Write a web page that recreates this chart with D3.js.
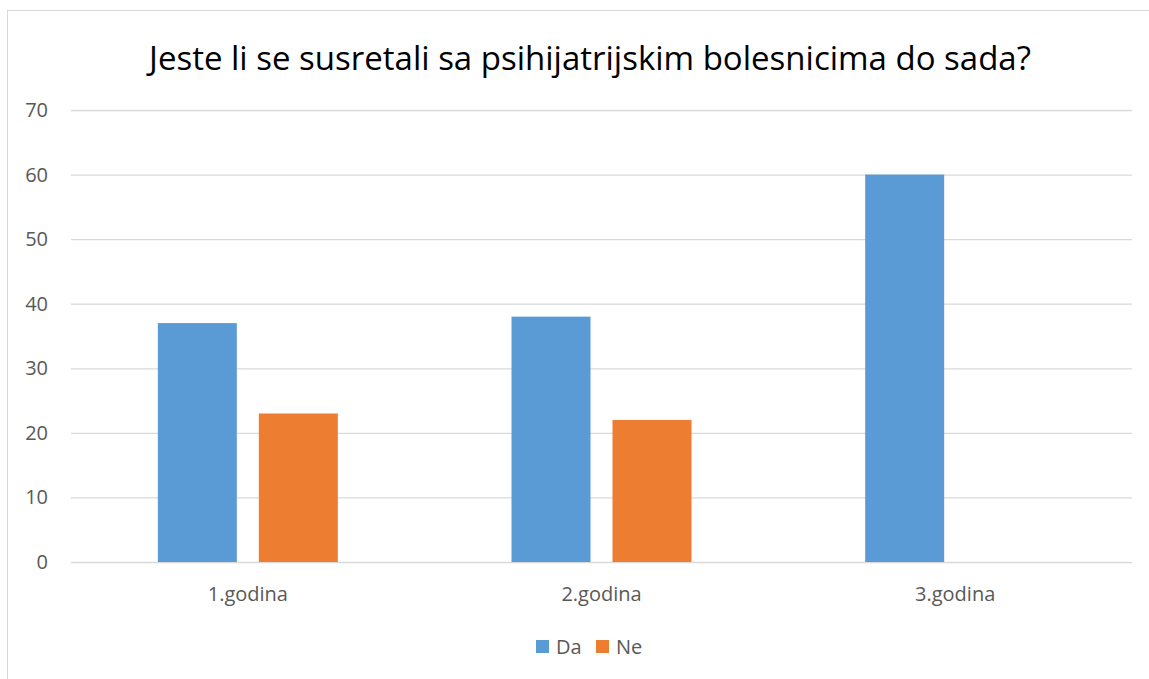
<html>
<head>
<script src="https://cdn.jsdelivr.net/npm/d3@7"></script>
<style>
  body{margin:0; background:#fff;}
  text{font-family:"Open Sans", "Noto Sans", sans-serif;}
</style>
</head>
<body>
<div id="chart"></div>
<script>
var categories = ['1.godina', '2.godina', '3.godina'];
var seriesNames = ['Da', 'Ne'];
var da = [37, 38, 60];
var ne = [23, 22, 0];
var yTicks = [0, 10, 20, 30, 40, 50, 60, 70];
var colors = ['#5B9BD5', '#ED7D31'];

var W = 1149, H = 679;
var svg = d3.select('#chart').append('svg')
  .attr('width', W)
  .attr('height', H);

// chart frame (runs off right and bottom)
svg.append('rect')
  .attr('x', 7.5).attr('y', 10.5)
  .attr('width', 1200).attr('height', 800)
  .attr('fill', '#fff')
  .attr('stroke', '#d9d9d9');

var plotL = 71, plotR = 1132, plotT = 110, plotB = 562;

var x = d3.scaleBand().domain(categories).range([plotL, plotR]);
var y = d3.scaleLinear().domain([0, 70]).range([plotB, plotT]);

// gridlines
svg.append('g').selectAll('line')
  .data(yTicks)
  .enter().append('line')
    .attr('x1', plotL).attr('x2', plotR)
    .attr('y1', function(d){ return y(d) + 0.5 })
    .attr('y2', function(d){ return y(d) + 0.5 })
    .attr('stroke', '#d9d9d9')
    .attr('stroke-width', 1.3);

// y tick labels
svg.append('g').selectAll('text')
  .data(yTicks)
  .enter().append('text')
    .attr('x', 48)
    .attr('y', function(d){ return y(d) })
    .attr('dy', '0.35em')
    .attr('text-anchor', 'end')
    .attr('fill', '#595959')
    .attr('font-size', 20)
    .text(function(d){ return d });

// bars
var barW = 79, gap = 22;
var rows = categories.map(function(c, i){ return {cat: c, vals: [da[i], ne[i]]} });
var groups = svg.append('g').selectAll('g')
  .data(rows)
  .enter().append('g')
    .attr('transform', function(d){
      return 'translate(' + (x(d.cat) + x.bandwidth() / 2 - barW - gap / 2) + ',0)';
    });
groups.selectAll('rect')
  .data(function(d){ return d.vals })
  .enter().append('rect')
    .attr('x', function(d, i){ return i * (barW + gap) })
    .attr('width', barW)
    .attr('y', function(d){ return y(d) })
    .attr('height', function(d){ return plotB - y(d) })
    .attr('fill', function(d, i){ return colors[i] });

// category labels
svg.append('g').selectAll('text')
  .data(categories)
  .enter().append('text')
    .attr('x', function(d){ return x(d) + x.bandwidth() / 2 })
    .attr('y', 601)
    .attr('text-anchor', 'middle')
    .attr('fill', '#595959')
    .attr('font-size', 20)
    .text(function(d){ return d });

// title
svg.append('text')
  .attr('x', 590).attr('y', 70)
  .attr('text-anchor', 'middle')
  .attr('fill', '#000')
  .attr('font-size', 33)
  .text('Jeste li se susretali sa psihijatrijskim bolesnicima do sada?');

// legend
var legend = svg.append('g').selectAll('g')
  .data(seriesNames)
  .enter().append('g')
    .attr('transform', function(d, i){ return 'translate(' + (536 + i * 60) + ',640)' });
legend.append('rect')
  .attr('width', 13).attr('height', 13)
  .attr('fill', function(d, i){ return colors[i] });
legend.append('text')
  .attr('x', 20).attr('y', 7)
  .attr('dy', '0.35em')
  .attr('fill', '#595959')
  .attr('font-size', 20)
  .text(function(d){ return d });
</script>
</body>
</html>
